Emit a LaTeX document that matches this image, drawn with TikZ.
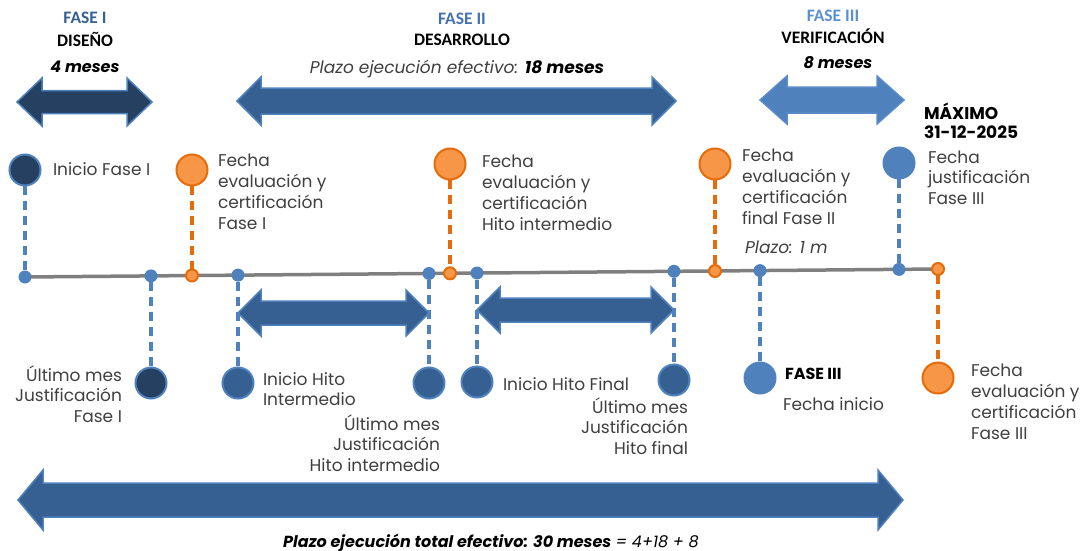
\documentclass[tikz,border=0pt]{standalone}
\usepackage{fontspec}
\setmainfont{Poppins}
\newfontfamily\headfont{Carlito}
\definecolor{navy}{HTML}{254061}
\definecolor{midblue}{HTML}{376092}
\definecolor{lightblue}{HTML}{4F81BD}
\definecolor{edgeblue}{HTML}{4F81BD}
\definecolor{paleedge}{HTML}{5A8CCB}
\definecolor{orfill}{HTML}{F79646}
\definecolor{oredge}{HTML}{E46C0A}
\definecolor{lineGray}{HTML}{7F7F7F}
\definecolor{txtgray}{HTML}{3F3F3F}
\definecolor{headI}{HTML}{366092}
\definecolor{headII}{HTML}{4472B0}
\definecolor{headIII}{HTML}{5B8FD0}
\newcommand\blockarrow[7]{%
  \filldraw[#7] (#1,#3) -- (#1+#6,#3-#5) -- (#1+#6,#3-#4) -- (#2-#6,#3-#4) -- (#2-#6,#3-#5) -- (#2,#3)
  -- (#2-#6,#3+#5) -- (#2-#6,#3+#4) -- (#1+#6,#3+#4) -- (#1+#6,#3+#5) -- cycle;}
\begin{document}
\begin{tikzpicture}[x=1pt,y=-1pt,
  every node/.style={inner sep=0pt, outer sep=0pt},
  txt/.style={font=\fontsize{17}{20.7}\selectfont, text=txtgray, align=left, anchor=base west},
  txtr/.style={font=\fontsize{17}{20.7}\selectfont, text=txtgray, align=right, anchor=base east},
  head/.style={font=\headfont\bfseries\fontsize{17.5}{20}\selectfont, anchor=base},
  big/.style={circle, minimum size=31pt, line width=2pt},
  bignavy/.style={big, fill=navy, draw=edgeblue},
  bigmid/.style={big, fill=midblue, draw=edgeblue},
  biglight/.style={big, fill=lightblue, draw=lightblue},
  bigor/.style={big, fill=orfill, draw=oredge},
  dotb/.style={circle, minimum size=13pt, fill=lightblue},
  doto/.style={circle, minimum size=12pt, fill=orfill, draw=oredge, line width=2pt},
  bdash/.style={draw=lightblue, line width=3.5pt, dash pattern=on 9pt off 6pt},
  odash/.style={draw=oredge, line width=3.5pt, dash pattern=on 9pt off 6pt},
  arrI/.style={fill=navy, draw=edgeblue, line width=1.5pt, line join=miter},
  arrII/.style={fill=midblue, draw=edgeblue, line width=1.5pt, line join=miter},
  arrIII/.style={fill=lightblue, draw=paleedge, line width=1.5pt, line join=miter}
]
\useasboundingbox (0,0) rectangle (1084,551);

% headings
\node[head, text=headI] (hI) at (85,24) {FASE I};
\node[head] (dI) at (85,47) {DISEÑO};
\node[font=\bfseries\itshape\fontsize{16}{19}\selectfont, anchor=base] (mI) at (85,73) {4 meses};
\node[head, text=headII] (hII) at (462,25) {FASE II};
\node[head] (dII) at (462,46) {DESARROLLO};
\node[font=\itshape\fontsize{17}{20}\selectfont, anchor=base, text=txtgray] (mII) at (457,74) {Plazo ejecución efectivo: \textbf{\color{black}18 meses}};
\node[head, text=headIII] (hIII) at (833,22) {FASE III};
\node[head] (dIII) at (833,44) {VERIFICACIÓN};
\node[font=\bfseries\itshape\fontsize{16}{19}\selectfont, anchor=base] (mIII) at (838,69) {8 meses};
\node[font=\bfseries\fontsize{17}{19}\selectfont, align=left, anchor=base west] (max) at (924,138) {MÁXIMO\\31-12-2025};

% block arrows
\blockarrow{17}{152}{102}{11.5}{24}{25}{arrI}
\blockarrow{237}{676}{101}{13}{24}{24}{arrII}
\blockarrow{760}{904}{100}{13}{24}{27}{arrIII}
\blockarrow{18}{903}{500}{17}{30}{25}{arrII}

% timeline
\coordinate (L) at (25,277);
\coordinate (R) at (940,269);
\draw[lineGray, line width=3.5pt] (L) -- (R);

% small dots on timeline
\node[dotb] (d1) at (25,277) {};
\node[dotb] (d2) at (151,275.9) {};
\node[doto] (d3) at (192,275.5) {};
\node[dotb] (d4) at (238,275.1) {};
\node[dotb] (d5) at (429,273.5) {};
\node[doto] (d6) at (450,273.3) {};
\node[dotb] (d7) at (477,273.0) {};
\node[dotb] (d8) at (674,271.3) {};
\node[doto] (d9) at (715,271.0) {};
\node[dotb] (d10) at (760,270.6) {};
\node[dotb] (d11) at (899,269.4) {};
\node[doto] (d12) at (938,269.0) {};

% big circles
\node[bignavy] (c1) at (25,170) {};
\node[bignavy] (c2) at (151,383) {};
\node[bigor] (c3) at (192,170) {};
\node[bigmid] (c4) at (238,383) {};
\node[bigmid] (c5) at (429,383) {};
\node[bigor] (c6) at (450,164) {};
\node[bigmid] (c7) at (477,382) {};
\node[bigmid] (c8) at (674,380) {};
\node[bigor] (c9) at (715,164) {};
\node[biglight] (c10) at (760,378) {};
\node[biglight] (c11) at (899,163) {};
\node[bigor] (c12) at (938,378) {};

% inner arrows
\blockarrow{238}{429}{313}{12}{23}{23}{arrII}
\blockarrow{477}{674}{310}{12}{23}{23}{arrII}

% dashed connectors
\draw[bdash] (c1) -- (d1);
\draw[bdash] (d2) -- (c2);
\draw[odash] (c3) -- (d3);
\draw[bdash] (d4) -- (c4);
\draw[bdash] (d5) -- (c5);
\draw[odash] (c6) -- (d6);
\draw[bdash] (d7) -- (c7);
\draw[bdash] (d8) -- (c8);
\draw[odash] (c9) -- (d9);
\draw[bdash] (d10) -- (c10);
\draw[bdash] (c11) -- (d11);
\draw[odash] (d12) -- (c12);

% labels (anchor = baseline of last line)
\node[txt] (t1) at (53,175) {Inicio Fase I};
\node[txt] (t3) at (218,229) {Fecha\\evaluación y\\certificación\\Fase I};
\node[txt] (t6) at (482,230) {Fecha\\evaluación y\\certificación\\Hito intermedio};
\node[txt] (t9) at (742,224) {Fecha\\evaluación y\\certificación\\final Fase II};
\node[txt, font=\itshape\fontsize{17}{20.7}\selectfont] (pl) at (745,253) {Plazo: 1 m};
\node[txt] (t11) at (928,204.4) {Fecha\\justificación\\Fase III};
\node[txtr] (t2) at (122,422.4) {Último mes\\Justificación\\Fase I};
\node[txt] (t4) at (263,405.7) {Inicio Hito\\Intermedio};
\node[txtr] (t5) at (440,471.4) {Último mes\\Justificación\\Hito intermedio};
\node[txt] (t7) at (503,390) {Inicio Hito Final};
\node[txtr] (t8) at (688,454.4) {Último mes\\Justificación\\Hito final};
\node[font=\bfseries\fontsize{16}{19}\selectfont, anchor=base west] (f3) at (785,379) {FASE III};
\node[txt] (t10) at (783,410) {Fecha inicio};
\node[txt] (t12) at (971,439) {Fecha\\evaluación y\\certificación\\Fase III};

% bottom
\node[anchor=base, font=\fontsize{16}{19}\selectfont] (tot) at (491,547) {\textbf{\textit{Plazo ejecución total efectivo: 30 meses}} \textit{= 4+18 + 8}};
\end{tikzpicture}
\end{document}
